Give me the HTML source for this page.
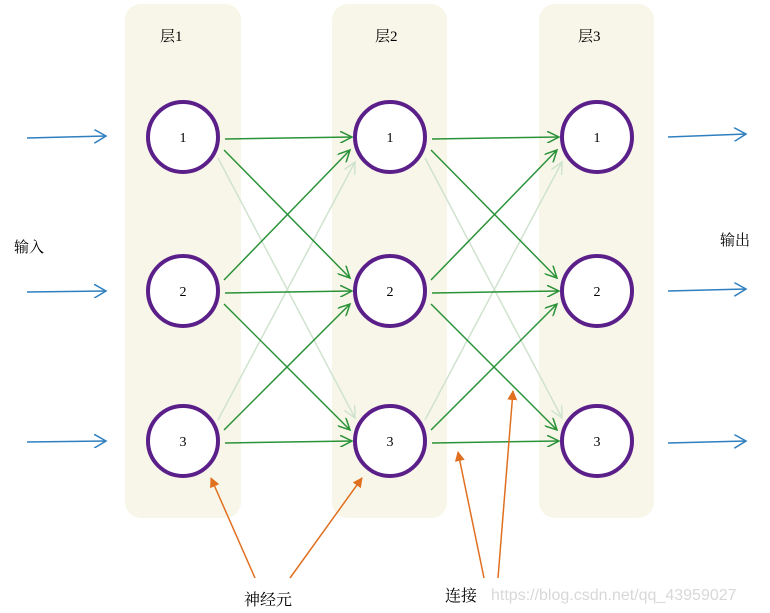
<!DOCTYPE html>
<html><head><meta charset="utf-8"><style>
body{margin:0;background:#fff;width:770px;height:613px;overflow:hidden}
svg{display:block}
text{font-family:"Liberation Serif","Noto Serif CJK SC",serif}
</style></head><body>
<svg width="770" height="613" viewBox="0 0 770 613">
<defs>
<marker id="g" markerWidth="14" markerHeight="12" refX="12" refY="6" orient="auto" markerUnits="userSpaceOnUse"><path d="M0,0 L12,6 L0,12" fill="none" stroke="#2a9238" stroke-width="1.5"/></marker>
<marker id="gl" markerWidth="14" markerHeight="12" refX="12" refY="6" orient="auto" markerUnits="userSpaceOnUse"><path d="M0,0 L12,6 L0,12" fill="none" stroke="#cfe3cf" stroke-width="1.5"/></marker>
<marker id="b" markerWidth="14" markerHeight="14" refX="12" refY="7" orient="auto" markerUnits="userSpaceOnUse"><path d="M0,0 L12,7 L0,14" fill="none" stroke="#2f7fbf" stroke-width="1.5"/></marker>
<marker id="o" markerWidth="10" markerHeight="10" refX="9" refY="5" orient="auto" markerUnits="userSpaceOnUse"><path d="M0,0 L10,5 L0,10z" fill="#e07020"/></marker>
</defs>
<rect x="125" y="4" width="116" height="514" rx="16" fill="#f8f6e8"/>
<rect x="332" y="4" width="115" height="514" rx="16" fill="#f8f6e8"/>
<rect x="539" y="4" width="115" height="514" rx="16" fill="#f8f6e8"/>
<text x="160" y="41" font-size="15">层1</text>
<text x="375" y="41" font-size="15">层2</text>
<text x="578" y="41" font-size="15">层3</text>
<g stroke-width="1.5" fill="none">
<line x1="218" y1="158" x2="355" y2="418" stroke="#cfe3cf" marker-end="url(#gl)"/>
<line x1="218" y1="420" x2="355" y2="162" stroke="#cfe3cf" marker-end="url(#gl)"/>
<line x1="425" y1="158" x2="562" y2="418" stroke="#cfe3cf" marker-end="url(#gl)"/>
<line x1="425" y1="420" x2="562" y2="162" stroke="#cfe3cf" marker-end="url(#gl)"/>
<g stroke="#2a9238">
<line x1="225" y1="139" x2="352" y2="137" marker-end="url(#g)"/>
<line x1="224" y1="150" x2="350" y2="278" marker-end="url(#g)"/>
<line x1="224" y1="280" x2="350" y2="150" marker-end="url(#g)"/>
<line x1="225" y1="293" x2="352" y2="291" marker-end="url(#g)"/>
<line x1="224" y1="304" x2="350" y2="430" marker-end="url(#g)"/>
<line x1="224" y1="430" x2="350" y2="304" marker-end="url(#g)"/>
<line x1="225" y1="443" x2="352" y2="441" marker-end="url(#g)"/>
<line x1="432" y1="139" x2="559" y2="137" marker-end="url(#g)"/>
<line x1="431" y1="150" x2="557" y2="278" marker-end="url(#g)"/>
<line x1="431" y1="280" x2="557" y2="150" marker-end="url(#g)"/>
<line x1="432" y1="293" x2="559" y2="291" marker-end="url(#g)"/>
<line x1="431" y1="304" x2="557" y2="430" marker-end="url(#g)"/>
<line x1="431" y1="430" x2="557" y2="304" marker-end="url(#g)"/>
<line x1="432" y1="443" x2="559" y2="441" marker-end="url(#g)"/>
</g>
<g stroke="#2f7fbf">
<line x1="27" y1="138" x2="106" y2="136" marker-end="url(#b)"/>
<line x1="27" y1="292" x2="106" y2="291" marker-end="url(#b)"/>
<line x1="27" y1="442" x2="106" y2="441" marker-end="url(#b)"/>
<line x1="668" y1="137" x2="746" y2="134" marker-end="url(#b)"/>
<line x1="668" y1="291" x2="746" y2="289" marker-end="url(#b)"/>
<line x1="668" y1="443" x2="746" y2="441" marker-end="url(#b)"/>
</g>
<g stroke="#e07020">
<line x1="255" y1="578" x2="211" y2="478" marker-end="url(#o)"/>
<line x1="290" y1="578" x2="362" y2="478" marker-end="url(#o)"/>
<line x1="484" y1="578" x2="458" y2="452" marker-end="url(#o)"/>
<line x1="498" y1="578" x2="513" y2="391" marker-end="url(#o)"/>
</g>
</g>
<g fill="#fff" stroke="#5b1f8a" stroke-width="4">
<circle cx="183" cy="137" r="35"/><circle cx="183" cy="291" r="35"/><circle cx="183" cy="441" r="35"/>
<circle cx="390" cy="137" r="35"/><circle cx="390" cy="291" r="35"/><circle cx="390" cy="441" r="35"/>
<circle cx="597" cy="137" r="35"/><circle cx="597" cy="291" r="35"/><circle cx="597" cy="441" r="35"/>
</g>
<g font-size="14" text-anchor="middle">
<text x="183" y="142">1</text><text x="183" y="296">2</text><text x="183" y="446">3</text>
<text x="390" y="142">1</text><text x="390" y="296">2</text><text x="390" y="446">3</text>
<text x="597" y="142">1</text><text x="597" y="296">2</text><text x="597" y="446">3</text>
</g>
<text x="14" y="252" font-size="15">输入</text>
<text x="720" y="245" font-size="15">输出</text>
<text x="244" y="605" font-size="16">神经元</text>
<text x="445" y="601" font-size="16">连接</text>
<text x="491" y="600" font-size="16" fill="#d8d8d8" style="font-family:'Liberation Sans',sans-serif">https://blog.csdn.net/qq_43959027</text>
</svg>
</body></html>
